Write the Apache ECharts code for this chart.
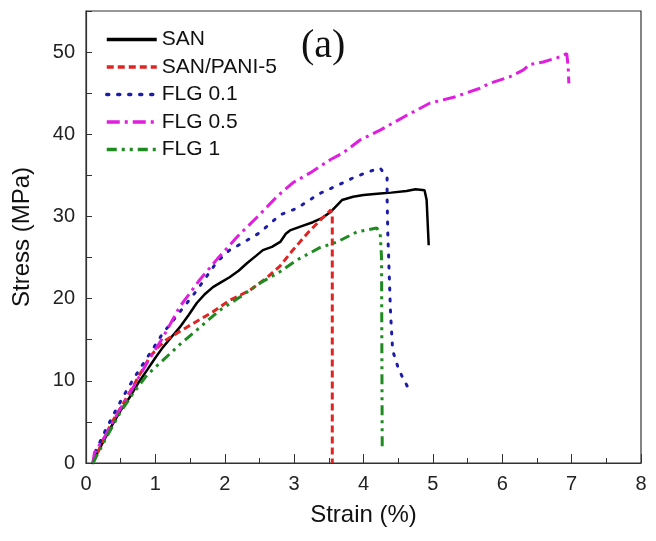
<!DOCTYPE html>
<html>
<head>
<meta charset="utf-8">
<script src="https://cdn.jsdelivr.net/npm/echarts@6/dist/echarts.min.js"></script>
<style>html,body{margin:0;padding:0;background:#fff}#c{width:656px;height:541px}</style>
</head>
<body>
<div id="c"></div>
<script>
var seriesNames = ['SAN', 'SAN/PANI-5', 'FLG 0.1', 'FLG 0.5', 'FLG 1'];
var xTicks = [0, 1, 2, 3, 4, 5, 6, 7, 8];
var yTicks = [0, 10, 20, 30, 40, 50];

var san = [[0.1,0],[0.13,0.7],[0.2,1.8],[0.35,4.2],[0.5,6.4],[0.63,8],[0.75,9.7],[0.88,11.3],[1.0,12.8],[1.11,14.1],[1.23,15.3],[1.35,16.5],[1.48,18.0],[1.6,19.5],[1.72,20.6],[1.83,21.4],[1.95,22.0],[2.07,22.6],[2.2,23.4],[2.32,24.3],[2.45,25.2],[2.55,25.9],[2.68,26.3],[2.8,26.9],[2.88,27.9],[2.94,28.3],[3.1,28.8],[3.27,29.3],[3.4,29.8],[3.52,30.5],[3.6,31.2],[3.69,32.0],[3.85,32.4],[4.0,32.6],[4.24,32.8],[4.4,32.9],[4.62,33.1],[4.75,33.3],[4.88,33.2],[4.9,33.4],[4.91,32.0],[4.93,28.3],[4.94,26.5]];
var sanPani5 = [[0.1,0],[0.25,2.8],[0.37,4.9],[0.54,7.3],[0.73,10.1],[0.92,12.9],[1.05,14.2],[1.16,15.0],[1.35,16.0],[1.55,17.0],[1.83,18.4],[2.07,19.8],[2.36,21.0],[2.6,22.5],[2.8,24.0],[2.98,25.9],[3.23,28.3],[3.42,29.9],[3.53,30.8],[3.55,30.0],[3.55,0]];
var flg01 = [[0.1,0],[0.13,1.3],[0.27,3.8],[0.39,5.8],[0.53,8.0],[0.66,9.9],[0.81,11.9],[0.95,13.7],[1.1,15.7],[1.28,17.6],[1.57,20.7],[1.89,24.5],[2.07,25.9],[2.3,27.0],[2.5,28.0],[2.8,30.2],[3.04,31.0],[3.37,32.8],[3.63,33.8],[3.85,34.7],[4.06,35.4],[4.24,35.9],[4.34,34.7],[4.34,32.4],[4.35,28.0],[4.37,23.1],[4.39,18.2],[4.42,13.7],[4.51,11.3],[4.64,9.2]];
var flg05 = [[0.1,0],[0.12,1.2],[0.27,3.2],[0.46,6.1],[0.68,9.2],[0.88,12.2],[1.11,15.3],[1.35,19.0],[1.64,22.3],[1.9,24.9],[2.2,27.7],[2.5,30.2],[2.75,32.4],[2.98,34.1],[3.23,35.3],[3.52,36.9],[3.7,37.7],[3.95,39.3],[4.24,40.5],[4.6,42.2],[4.96,43.8],[5.3,44.5],[5.68,45.6],[5.82,46.2],[6.11,47.0],[6.3,47.8],[6.4,48.5],[6.59,48.8],[6.79,49.3],[6.93,49.8],[6.95,48.2],[6.96,46.2]];
var flg1 = [[0.1,0],[0.3,3.2],[0.49,6.1],[0.68,8.5],[0.88,10.7],[1.07,12.2],[1.35,14.4],[1.6,16.2],[1.93,18.6],[2.22,20.2],[2.51,21.9],[2.8,23.3],[3.04,24.7],[3.37,26.2],[3.62,26.9],[3.9,28.1],[4.19,28.6],[4.24,28.0],[4.26,25],[4.27,1.5]];

var dataSets = [san, sanPani5, flg01, flg05, flg1];
var colors = ['#000000', '#e02424', '#1c1ca8', '#e01ee0', '#1f8a1f'];
var dashes = ['solid', [7, 4], [2, 9], [13, 5, 3, 5], [10, 5, 3, 5, 3, 5]];
var widths = [2.5, 3, 3, 3, 3];

var FONT = 'Liberation Sans';
var chart = echarts.init(document.getElementById('c'), null, {renderer: 'canvas'});
chart.setOption({
  animation: false,
  backgroundColor: '#fff',
  grid: {left: 86, right: 15, top: 11, bottom: 78, show: true, borderColor: '#333', borderWidth: 1.2},
  legend: {
    orient: 'vertical', left: 100, top: 24, itemWidth: 50, itemHeight: 14, itemGap: 6.5,
    itemStyle: {opacity: 0, borderWidth: 0},
    lineStyle: {width: 3.5},
    textStyle: {fontFamily: FONT, fontSize: 21, lineHeight: 21, color: '#111'},
    data: seriesNames
  },
  xAxis: {
    type: 'value', min: 0, max: 8, interval: 1,
    name: 'Strain (%)', nameLocation: 'middle', nameGap: 40,
    nameTextStyle: {fontFamily: FONT, fontSize: 24, color: '#111'},
    axisLine: {lineStyle: {color: '#333', width: 1.2}},
    axisTick: {inside: true, length: 9, lineStyle: {color: '#333'}},
    minorTick: {show: true, splitNumber: 2, length: 5, lineStyle: {color: '#333'}},
    splitLine: {show: false},
    axisLabel: {fontFamily: FONT, fontSize: 20, color: '#222', margin: 11,
      formatter: function (v) { return xTicks.indexOf(v) >= 0 ? String(v) : ''; }}
  },
  yAxis: {
    type: 'value', min: 0, max: 55, interval: 5,
    name: 'Stress (MPa)', nameLocation: 'middle', nameGap: 52,
    nameTextStyle: {fontFamily: FONT, fontSize: 24, color: '#111'},
    axisLine: {lineStyle: {color: '#333', width: 1.2}},
    axisTick: {inside: true, length: 6, lineStyle: {color: '#333'}},
    splitLine: {show: false},
    axisLabel: {fontFamily: FONT, fontSize: 20, color: '#222', margin: 11,
      formatter: function (v) { return yTicks.indexOf(v) >= 0 ? String(v) : ''; }}
  },
  graphic: [{
    type: 'text', left: 301, top: 26,
    style: {text: '(a)', font: '40px "Liberation Serif"', fill: '#111'}
  }],
  series: seriesNames.map(function (n, i) {
    return {
      name: n, type: 'line', data: dataSets[i], showSymbol: false, symbol: 'none',
      lineStyle: {color: colors[i], width: widths[i], type: dashes[i], cap: i === 2 ? 'round' : 'butt'},
      itemStyle: {color: colors[i]}
    };
  })
});
</script>
</body>
</html>
